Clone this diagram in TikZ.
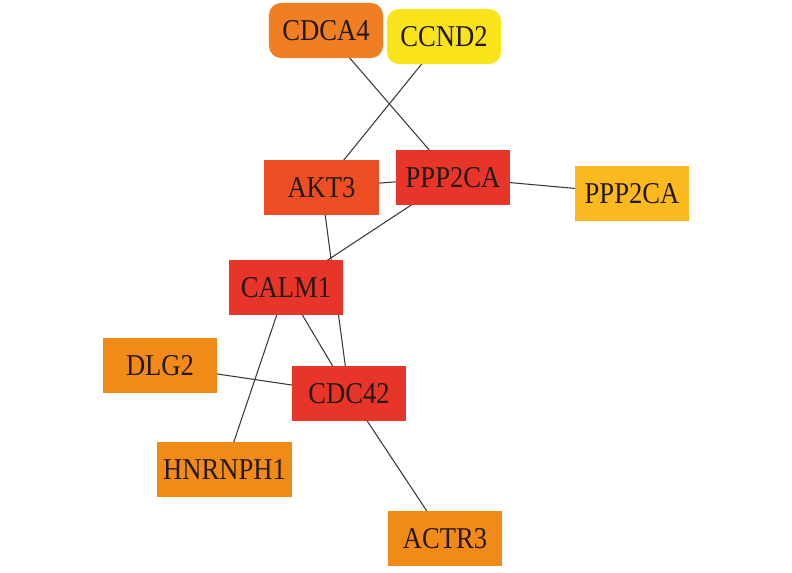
\documentclass[tikz,border=0pt]{standalone}
\usepackage{fontspec}
\setmainfont{Liberation Serif}
\usetikzlibrary{backgrounds}
\definecolor{hubred}{RGB}{232,53,41}
\definecolor{akt}{RGB}{238,78,35}
\definecolor{midorange}{RGB}{242,138,24}
\definecolor{cdcorange}{RGB}{240,126,34}
\definecolor{gold}{RGB}{251,185,32}
\definecolor{yel}{RGB}{249,228,27}
\definecolor{ink}{RGB}{35,24,21}
\newcommand{\gname}[1]{\scalebox{0.88}[1]{#1}}
\begin{document}
\begin{tikzpicture}[x=0.025cm, y=-0.025cm,
        gene/.style={rectangle, minimum width=2.85cm, minimum height=1.375cm, inner sep=0pt, text=ink, font=\fontsize{21.5}{24}\selectfont},
        roundgene/.style={gene, rounded corners=0.3cm},
        link/.style={draw=black!78, line width=0.75pt}
    ]
    \useasboundingbox (0,0) rectangle (792,573);
    \node[roundgene, fill=cdcorange] (cdca4) at (326,30.5) {\gname{CDCA4}};
    \node[roundgene, fill=yel] (ccnd2) at (444,36.5) {\gname{CCND2}};
    \node[gene, fill=akt] (akt3) at (321.5,187.5) {\gname{AKT3}};
    \node[gene, fill=hubred] (ppp2ca) at (453,177.5) {\gname{PPP2CA}};
    \node[gene, fill=gold] (ppp2cb) at (632,193.5) {\gname{PPP2CA}};
    \node[gene, fill=hubred] (calm1) at (286,287.5) {\gname{CALM1}};
    \node[gene, fill=midorange] (dlg2) at (160,365.5) {\gname{DLG2}};
    \node[gene, fill=hubred] (cdc42) at (349,393.5) {\gname{CDC42}};
    \node[gene, fill=midorange, minimum width=3.375cm] (hnrnph1) at (224.5,469.5) {\gname{HNRNPH1}};
    \node[gene, fill=midorange] (actr3) at (445,538.5) {\gname{ACTR3}};
    % edges behind the boxes
    \begin{pgfonlayer}{background}
        \draw[link] (cdca4.center) -- (ppp2ca.center);
        \draw[link] (ccnd2.center) -- (akt3.center);
        \draw[link] (akt3.center) -- (ppp2ca.center);
        \draw[link] (ppp2ca.center) -- (ppp2cb.center);
        \draw[link] (ppp2ca.center) -- (calm1.center);
        \draw[link] (akt3.center) -- (cdc42.center);
        \draw[link] (calm1.center) -- (cdc42.center);
        \draw[link] (calm1.center) -- (hnrnph1.center);
        \draw[link] (dlg2.center) -- (cdc42.center);
        \draw[link] (cdc42.center) -- (actr3.center);
    \end{pgfonlayer}
\end{tikzpicture}
\end{document}
